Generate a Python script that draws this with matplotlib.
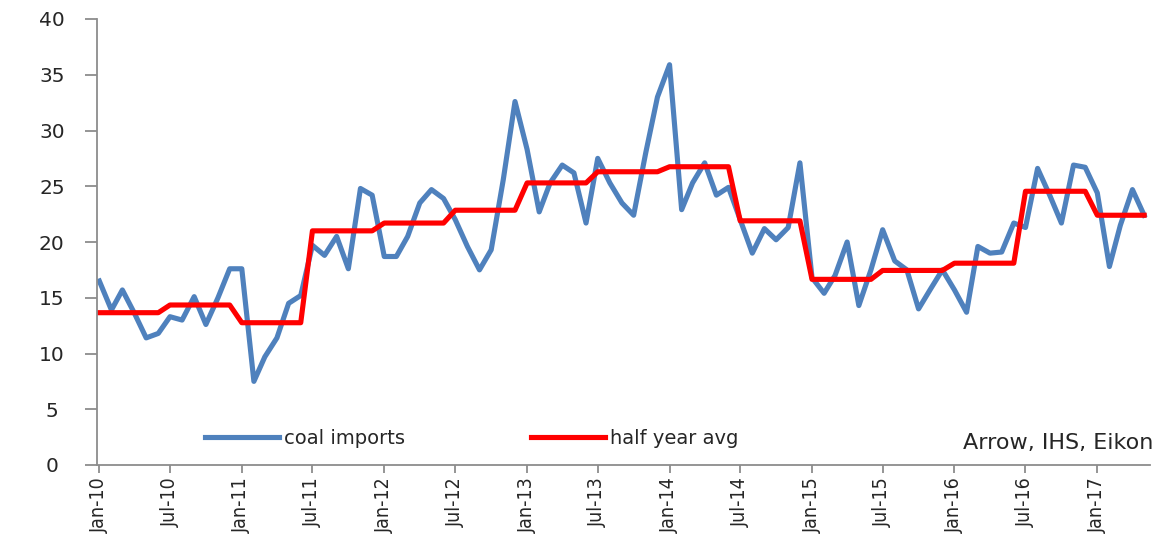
import matplotlib
matplotlib.use("Agg")
import matplotlib.pyplot as plt
import numpy as np
import pandas as pd

# Monthly coal imports, Jan-2010 .. May-2017
months = pd.date_range("2010-01-01", periods=89, freq="MS")

coal_imports = [
    # 2010
    16.5, 13.9, 15.7, 13.6, 11.4, 11.8, 13.3, 13.0, 15.1, 12.6, 15.0, 17.6,
    # 2011
    17.6, 7.5, 9.7, 11.4, 14.5, 15.2, 19.7, 18.8, 20.5, 17.6, 24.8, 24.2,
    # 2012
    18.7, 18.7, 20.5, 23.5, 24.7, 23.9, 22.0, 19.6, 17.5, 19.3, 25.6, 32.6,
    # 2013
    28.3, 22.7, 25.3, 26.9, 26.2, 21.7, 27.5, 25.3, 23.5, 22.4, 28.0, 33.0,
    # 2014
    35.9, 22.9, 25.3, 27.1, 24.2, 24.9, 22.0, 19.0, 21.2, 20.2, 21.3, 27.1,
    # 2015
    16.8, 15.4, 17.0, 20.0, 14.3, 17.5, 21.1, 18.3, 17.5, 14.0, 15.8, 17.5,
    # 2016
    15.7, 13.7, 19.6, 19.0, 19.1, 21.7, 21.3, 26.6, 24.2, 21.7, 26.9, 26.7,
    # 2017
    24.4, 17.8, 21.5, 24.7, 22.4,
]

# Average level for each half year (H1-2010 .. H1-2017)
half_year_avg = [13.66, 14.35, 12.76, 21.0, 21.7, 22.85, 25.3, 26.3,
                 26.75, 21.9, 16.65, 17.45, 18.1, 24.55, 22.4]

tick_labels = ["Jan-10", "Jul-10", "Jan-11", "Jul-11", "Jan-12", "Jul-12",
               "Jan-13", "Jul-13", "Jan-14", "Jul-14", "Jan-15", "Jul-15",
               "Jan-16", "Jul-16", "Jan-17"]
y_ticks = [0, 5, 10, 15, 20, 25, 30, 35, 40]

# the half-year level repeated for every month of its half
avg_monthly = np.repeat(half_year_avg, 6)[:len(months)]
tick_dates = pd.to_datetime(tick_labels, format="%b-%y")

BLUE = "#4F81BD"
RED = "#FF0000"
AXIS = "#8C8C8C"
TEXT = "#262626"

fig = plt.figure(figsize=(11.55, 5.38), dpi=100)
ax = fig.add_axes([97 / 1155, 1 - 465 / 538, (1150 - 97) / 1155, (465 - 19) / 538])

ax.plot(months, coal_imports, color=BLUE, lw=3.7, solid_joinstyle="round",
        label="coal imports")
ax.plot(months, avg_monthly, color=RED, lw=3.7, solid_joinstyle="round",
        label="half year avg")

ax.set_xlim(pd.Timestamp("2009-12-26"), pd.Timestamp("2017-05-16"))
ax.set_ylim(0, 40)

ax.set_yticks(y_ticks)
ax.set_yticklabels([str(v) for v in y_ticks], fontsize=14.5, color=TEXT,
                   ha="center")
ax.set_xticks(tick_dates)
ax.set_xticklabels(tick_labels, rotation=90, fontsize=14, color=TEXT,
                   family="DejaVu Sans", stretch="condensed")

for side in ("top", "right"):
    ax.spines[side].set_visible(False)
for side in ("left", "bottom"):
    ax.spines[side].set_color(AXIS)
    ax.spines[side].set_linewidth(1.3)

ax.tick_params(axis="y", direction="out", length=9, width=1.3, color=AXIS, pad=23.5)
ax.tick_params(axis="x", direction="out", length=6, width=1.3, color=AXIS, pad=2.5)

ax.legend(loc="center left", bbox_to_anchor=(108 / 1053, 27 / 446), ncol=2,
          frameon=False, fontsize=14, handlelength=3.8, handletextpad=0.25,
          columnspacing=6.5, borderpad=0, borderaxespad=0, labelcolor=TEXT)

fig.text(1153 / 1155, 1 - 443 / 538, "Arrow, IHS, Eikon", ha="right",
         va="center", fontsize=16, color=TEXT)

fig.savefig("out.png", dpi=100)
